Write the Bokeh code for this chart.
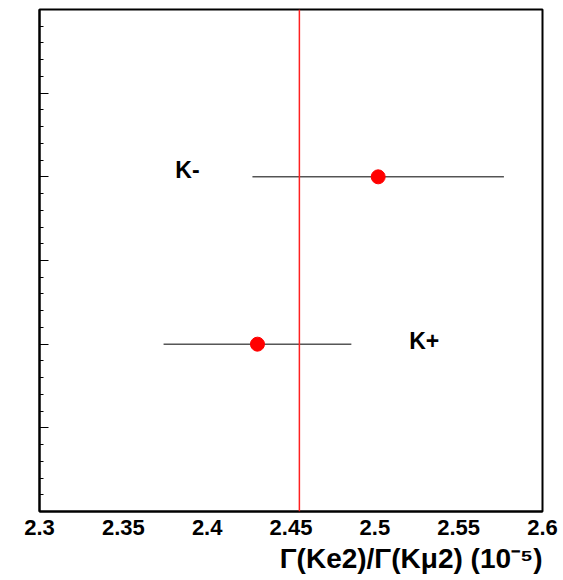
from bokeh.plotting import figure
from bokeh.models import FixedTicker, Label, Span, Title
from bokeh.embed import file_html
from bokeh.resources import INLINE

# data
labels = ["K+", "K-"]
values = [2.430, 2.502]
err_lo = [2.374, 2.427]
err_hi = [2.486, 2.577]
ypos = [1.0, 2.0]
ref_value = 2.455
x_ticks = [2.3, 2.35, 2.4, 2.45, 2.5, 2.55, 2.6]
x_tick_labels = ["2.3", "2.35", "2.4", "2.45", "2.5", "2.55", "2.6"]
y_ticks = [0, 0.5, 1, 1.5, 2, 2.5, 3]
label_pos_x = [2.5205, 2.381]
label_pos_y = [1.02, 2.04]
x_title = "Γ(Ke2)/Γ(Kμ2) (10⁻⁵)"

FONT = "Liberation Sans"

p = figure(frame_width=503, frame_height=502, x_range=(2.3, 2.6), y_range=(0, 3),
           output_backend="svg", toolbar_location=None,
           min_border_left=39, min_border_right=21, min_border_top=9, min_border_bottom=69)
p.background_fill_color = "white"
p.border_fill_color = "white"
p.grid.visible = False
p.outline_line_color = "black"
p.outline_line_width = 2

# x axis
p.xaxis.ticker = FixedTicker(ticks=x_ticks)
p.xaxis.major_label_overrides = {t: l for t, l in zip(x_ticks, x_tick_labels)}
p.xaxis.major_tick_line_color = None
p.xaxis.minor_tick_line_color = None
p.xaxis.axis_line_color = "black"
p.xaxis.axis_line_width = 2
p.xaxis.major_label_text_font = FONT
p.xaxis.major_label_text_font_style = "bold"
p.xaxis.major_label_text_font_size = "22px"
p.xaxis.major_label_text_color = "black"
p.xaxis.major_label_standoff = 2

# y axis
p.yaxis.ticker = FixedTicker(ticks=y_ticks, minor_ticks=[i / 10 for i in range(31)])
p.yaxis.major_label_overrides = {t: "" for t in y_ticks}
p.yaxis.major_tick_in = 9
p.yaxis.major_tick_out = 0
p.yaxis.minor_tick_in = 4
p.yaxis.minor_tick_out = 0
p.yaxis.major_tick_line_color = "black"
p.yaxis.minor_tick_line_color = "black"
p.yaxis.axis_line_color = "black"
p.yaxis.axis_line_width = 2
p.yaxis.major_label_standoff = 0

# reference line
p.add_layout(Span(location=ref_value, dimension="height", line_color="#ff2020", line_width=1.5))

# error bars and points
p.segment(x0=err_lo, y0=ypos, x1=err_hi, y1=ypos, line_color="black", line_width=1)
p.scatter(x=values, y=ypos, size=14, color="red", line_color="red")

for t, lx, ly in zip(labels, label_pos_x, label_pos_y):
    p.add_layout(Label(x=lx, y=ly, text=t, text_font=FONT, text_font_style="bold",
                       text_font_size="23px", text_color="black", text_baseline="alphabetic"))

p.add_layout(Title(text=x_title, align="right", text_font=FONT, text_font_style="bold",
                   text_font_size="28px", text_color="black", standoff=7, offset=0), "below")

open("out.html", "w").write(file_html(p, INLINE))
